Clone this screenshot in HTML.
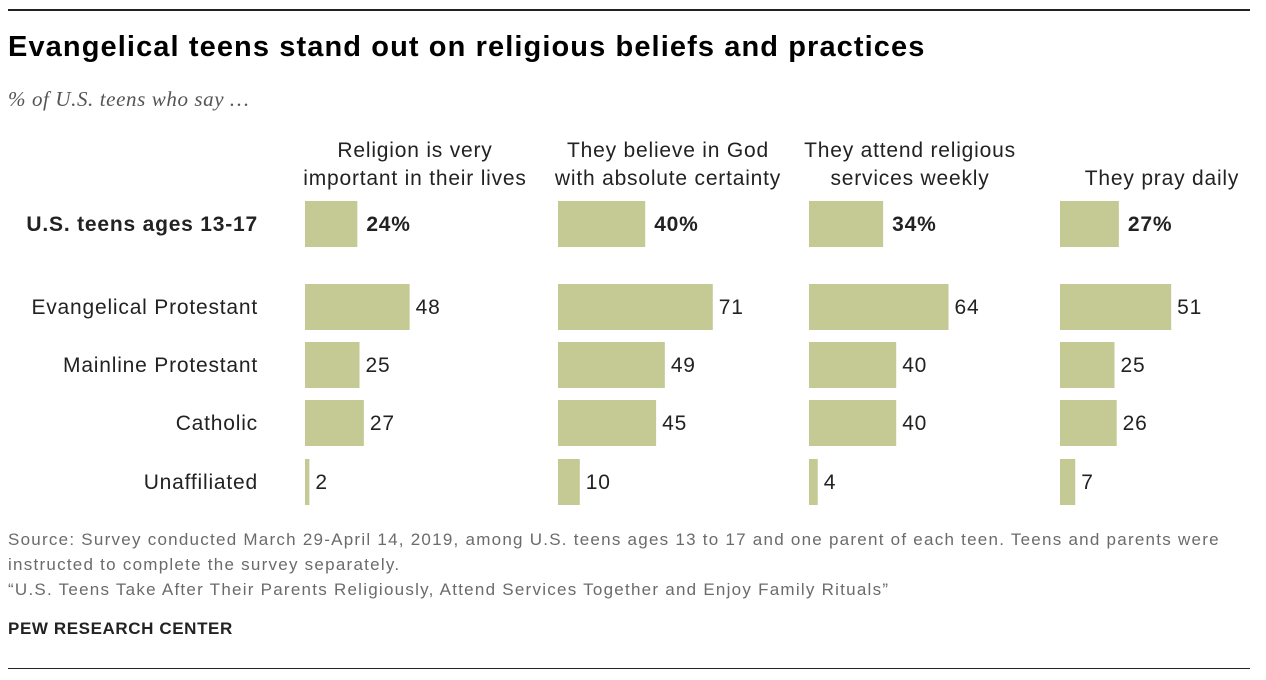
<!DOCTYPE html>
<html><head><meta charset="utf-8"><style>
body{margin:0;width:1266px;height:680px;background:#fff;font-family:"Liberation Sans",sans-serif;position:relative;overflow:hidden}
.a{position:absolute;white-space:nowrap}
.ft{font-size:17px;color:#6b6b6b;letter-spacing:1.25px}
</style></head><body>
<div class="a" style="left:8px;top:9px;width:1242px;height:2px;background:#222"></div>
<div class="a" style="left:8px;top:31px;font-size:29px;font-weight:bold;color:#000;letter-spacing:1.1px">Evangelical teens stand out on religious beliefs and practices</div>
<div class="a" style="left:8px;top:87px;font-size:21px;font-style:italic;font-family:'Liberation Serif',serif;color:#555;letter-spacing:0.6px">% of U.S. teens who say …</div>
<svg id="chart" class="a" style="left:0;top:0" width="1266" height="680"></svg>
<div class="a ft" style="left:8px;top:527px;line-height:25px">Source: Survey conducted March 29-April 14, 2019, among U.S. teens ages 13 to 17 and one parent of each teen. Teens and parents were<br>instructed to complete the survey separately.<br>“U.S. Teens Take After Their Parents Religiously, Attend Services Together and Enjoy Family Rituals”</div>
<div class="a" style="left:8px;top:619px;font-size:17px;font-weight:bold;color:#222;letter-spacing:0.6px">PEW RESEARCH CENTER</div>
<div class="a" style="left:8px;top:668px;width:1242px;height:1px;background:#222"></div>
<script>
const categories=["U.S. teens ages 13-17","Evangelical Protestant","Mainline Protestant","Catholic","Unaffiliated"];
const headers=[["Religion is very","important in their lives"],["They believe in God","with absolute certainty"],["They attend religious","services weekly"],["They pray daily",""]];
const importantVals=[24,48,25,27,2];
const godVals=[40,71,49,45,10];
const attendVals=[34,64,40,40,4];
const prayVals=[27,51,25,26,7];
const series=[importantVals,godVals,attendVals,prayVals];
const colX=[305,558,809,1060];
const hdCenter=[415,668,910,1162];
const rowY=[224,307,365,423,482];
const scale=2.18, barH=46;
const NS="http://www.w3.org/2000/svg";
const svg=document.getElementById('chart');
function x(c,v){return colX[c]+v*scale;}
function t(px,py,txt,opts){const e=document.createElementNS(NS,'text');e.setAttribute('x',px);e.setAttribute('y',py);e.setAttribute('font-size',opts.size||21);e.setAttribute('letter-spacing','0.8');e.setAttribute('fill',opts.fill||'#222');e.setAttribute('font-family','Liberation Sans, sans-serif');if(opts.bold)e.setAttribute('font-weight','bold');if(opts.anchor)e.setAttribute('text-anchor',opts.anchor);e.textContent=txt;svg.appendChild(e);return e;}
categories.forEach((c,i)=>{
  const e=t(258,rowY[i]+7,c,{anchor:'end',bold:i===0});
  
  
});
headers.forEach((h,c)=>{
  const y1=h[1]?157:185;
  const e=t(hdCenter[c],y1,h[0],{anchor:'middle'});
  
  
  if(h[1]){const e2=t(hdCenter[c],185,h[1],{anchor:'middle'});
  
  }
});
series.forEach((vals,c)=>{
  vals.forEach((v,i)=>{
    const r=document.createElementNS(NS,'rect');
    r.setAttribute('x',colX[c]);r.setAttribute('y',rowY[i]-barH/2);
    r.setAttribute('width',Math.max(v*scale,3));r.setAttribute('height',barH);
    r.setAttribute('fill','#c5c994');
    
    
    svg.appendChild(r);
    const lx=Math.max(x(c,v),colX[c]+3)+(i===0?9:6);
    const l=t(lx,rowY[i]+7,i===0?v+'%':String(v),{bold:i===0});
    
    
  });
});
</script>
</body></html>
